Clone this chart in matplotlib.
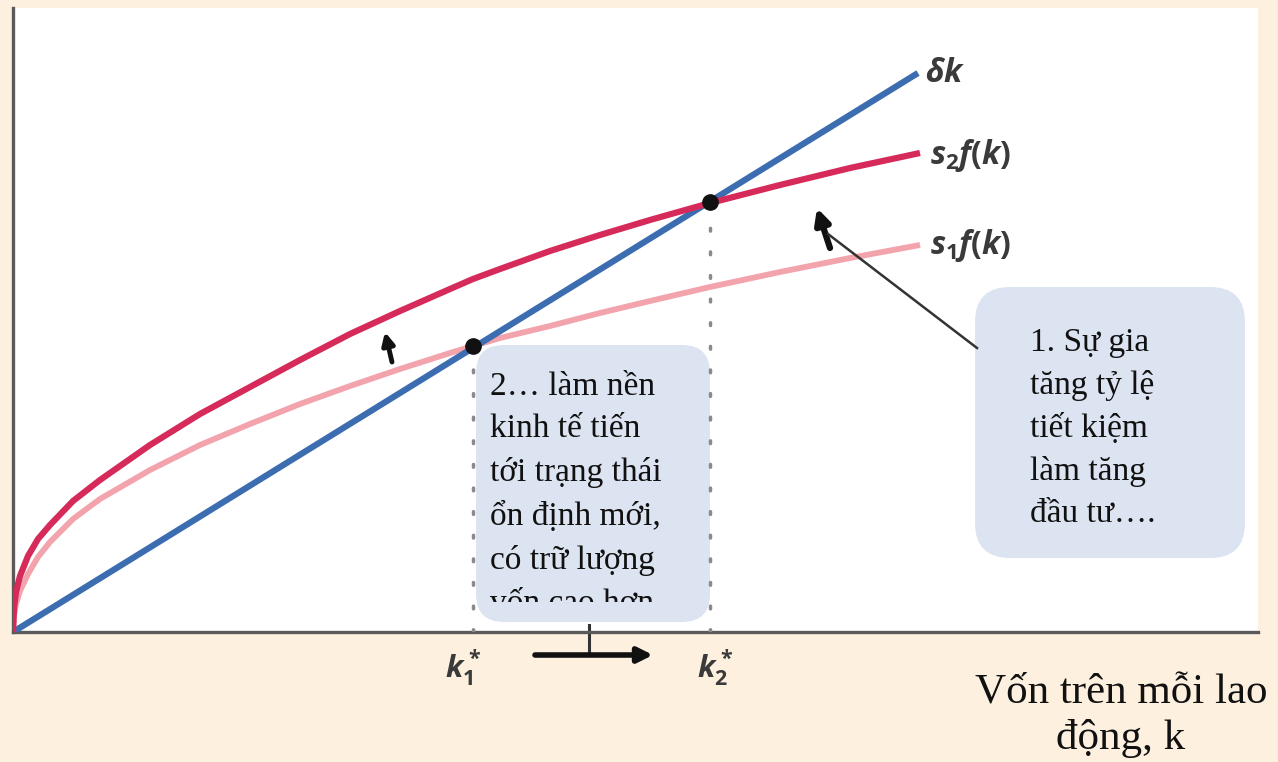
import matplotlib
matplotlib.use("Agg")
import matplotlib.pyplot as plt
from matplotlib.patches import FancyBboxPatch
from matplotlib.transforms import Bbox, TransformedBbox

plt.rcParams["mathtext.fontset"] = "custom"
plt.rcParams["mathtext.it"] = "Open Sans:italic:bold"
plt.rcParams["mathtext.rm"] = "Open Sans:bold"
plt.rcParams["mathtext.bf"] = "Open Sans:bold"

# capital per worker k and curve values
k_vals = [0.00, 0.01, 0.03, 0.07, 0.15, 0.25, 0.37, 0.60, 0.87, 1.37,
          1.87, 2.37, 2.87, 3.37, 3.87, 4.37, 4.60, 4.87, 5.37, 5.87,
          6.37, 6.97, 7.67, 8.37, 9.07]
s2f = [0.00, 0.24, 0.40, 0.56, 0.76, 0.93, 1.07, 1.31, 1.52, 1.87,
       2.18, 2.45, 2.72, 2.98, 3.21, 3.43, 3.53, 3.63, 3.81, 3.97,
       4.12, 4.29, 4.47, 4.64, 4.79]
s1f = [0.00, 0.16, 0.28, 0.41, 0.58, 0.75, 0.90, 1.13, 1.33, 1.62,
       1.87, 2.08, 2.28, 2.46, 2.63, 2.79, 2.86, 2.94, 3.06, 3.19,
       3.31, 3.45, 3.60, 3.74, 3.87]
dk_k = [0.00, 9.05]
dk_y = [0.00, 5.59]

k1_star, y1_star = 4.60, 2.86
k2_star, y2_star = 6.97, 4.30

curve_labels = [r"$\delta k$", r"$s_2f(k)$", r"$s_1f(k)$"]
star_labels = [r"$k_1^*$", r"$k_2^*$"]
box2_text = "2… làm nền\nkinh tế tiến\ntới trạng thái\nổn định mới,\ncó trữ lượng\nvốn cao hơn"
box1_text = "1. Sự gia\ntăng tỷ lệ\ntiết kiệm\nlàm tăng\nđầu tư…."
xlabel = "Vốn trên mỗi lao\nđộng, k"

cream = "#FDF0DE"
fig = plt.figure(figsize=(12.78, 7.62), dpi=100, facecolor=cream)
ax = fig.add_axes([13/1278, 130/762, 1245/1278, 624/762])
ax.set_facecolor("white")
ax.set_xlim(0, 12.45)
ax.set_ylim(0, 6.24)
ax.set_xticks([])
ax.set_yticks([])
for s in ["top", "right"]:
    ax.spines[s].set_visible(False)
for s in ["left", "bottom"]:
    ax.spines[s].set_color("#5a5a5a")
    ax.spines[s].set_linewidth(2.4)

# text boxes
box2 = FancyBboxPatch((4.63 + 0.28, 0.10 + 0.28), 2.34 - 0.56, 2.77 - 0.56,
                      boxstyle="round,pad=0.28", fc="#DCE3F1", ec="none", zorder=2)
ax.add_patch(box2)
box1 = FancyBboxPatch((9.62 + 0.35, 0.74 + 0.35), 2.70 - 0.70, 2.71 - 0.70,
                      boxstyle="round,pad=0.35", fc="#DCE3F1", ec="none", zorder=2)
ax.add_patch(box1)

t2 = ax.text(4.77, 2.61, box2_text, ha="left", va="top", fontsize=24,
             family="Liberation Serif", color="#111111", linespacing=1.53, zorder=3)
t2.set_clip_on(True)
t2.set_clip_box(TransformedBbox(Bbox([[4.6, 0.30], [7.1, 3.3]]), ax.transData))
ax.text(10.17, 3.05, box1_text, ha="left", va="top", fontsize=24,
        family="Liberation Serif", color="#111111", linespacing=1.5, zorder=3)

# dotted guides
ax.plot([k1_star, k1_star], [0, y1_star], color="#8a8a8a", lw=2.5,
        dashes=(0.8, 6), dash_capstyle="round", zorder=4)
ax.plot([k2_star, k2_star], [0, y2_star], color="#8a8a8a", lw=2.5,
        dashes=(0.8, 6), dash_capstyle="round", zorder=4)

# curves
ax.plot(k_vals, s1f, color="#F2A3AC", lw=4.2, solid_capstyle="butt", zorder=5)
ax.plot(dk_k, dk_y, color="#3B6DB0", lw=4.5, solid_capstyle="butt", zorder=6)
ax.plot(k_vals, s2f, color="#D62A5A", lw=4.5, solid_capstyle="butt", zorder=7)

ax.plot([k1_star, k2_star], [y1_star, y2_star], "o", color="#111111",
        ms=11, zorder=8)

lab_col = "#3a3a3a"
ax.text(9.12, 5.59, curve_labels[0], fontsize=23, color=lab_col, va="center")
ax.text(9.17, 4.77, curve_labels[1], fontsize=23, color=lab_col, va="center")
ax.text(9.17, 3.87, curve_labels[2], fontsize=23, color=lab_col, va="center")

# arrows
ax.annotate("", xy=(3.72, 3.00), xytext=(3.79, 2.70),
            arrowprops=dict(arrowstyle="-|>", lw=3.5, color="#111111",
                            mutation_scale=18, shrinkA=0, shrinkB=0), zorder=9)
ax.annotate("", xy=(8.04, 4.24), xytext=(8.17, 3.84),
            arrowprops=dict(arrowstyle="-|>", lw=4.5, color="#111111",
                            mutation_scale=22, shrinkA=0, shrinkB=0), zorder=9)
ax.plot([8.15, 9.64], [3.98, 2.84], color="#333333", lw=1.8, zorder=9)

# arrow below the axis
ax.annotate("", xy=(6.40, -0.23), xytext=(5.22, -0.23),
            arrowprops=dict(arrowstyle="-|>", lw=4, color="#111111",
                            mutation_scale=22, shrinkA=0, shrinkB=0),
            annotation_clip=False)
ax.plot([5.76, 5.76], [0.07, -0.23], color="#333333", lw=2.2, clip_on=False)

ax.text(4.50, -0.36, star_labels[0], fontsize=22, color=lab_col,
        ha="center", va="center")
ax.text(7.02, -0.36, star_labels[1], fontsize=22, color=lab_col,
        ha="center", va="center")

fig.text(1121/1278, 1 - 716/762, xlabel, fontsize=31, family="Liberation Serif",
         color="#111111", ha="center", va="center", linespacing=1.25)

fig.savefig("out.png", dpi=100, facecolor=cream)
